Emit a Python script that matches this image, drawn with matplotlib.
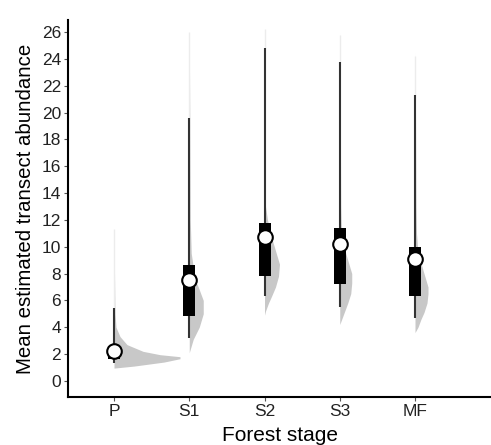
import numpy as np
import matplotlib.pyplot as plt

plt.rcParams['font.family'] = ['Liberation Sans', 'DejaVu Sans']

# forest stages
stages = ['P', 'S1', 'S2', 'S3', 'MF']

# posterior summaries
medians = [2.25, 7.5, 10.7, 10.2, 9.1]
box_lo = [1.6, 4.85, 7.8, 7.2, 6.3]      # 66% interval
box_hi = [2.6, 8.65, 11.8, 11.4, 10.0]
line_lo = [1.35, 3.2, 6.3, 5.5, 4.7]     # 95% interval
line_hi = [5.45, 19.6, 24.8, 23.8, 21.3]
tail_hi = [11.3, 26.0, 26.2, 25.8, 24.2]  # faint max tail

# half-violin outlines: (value, slab width in px at 75 px per category)
dens_vals = [
    [0.95, 1.1, 1.4, 1.65, 1.8, 1.95, 2.2, 2.7, 3.3, 4.0, 5.0, 11.0],
    [2.1, 2.6, 3.1, 4.0, 5.0, 6.0, 7.0, 7.5, 8.5, 9.5, 12.0, 20.0, 26.0],
    [4.9, 5.2, 5.8, 6.3, 7.0, 7.8, 8.7, 9.7, 10.7, 12.0, 13.0, 20.0, 26.0],
    [4.2, 4.6, 5.2, 5.8, 6.5, 7.3, 8.0, 9.0, 9.5, 10.5, 11.5, 13.0, 20.0, 26.0],
    [3.6, 4.0, 4.6, 5.1, 5.8, 6.5, 7.0, 7.5, 8.0, 9.0, 9.5, 11.0, 13.0, 20.0, 24.5],
]
dens_w = [
    [0, 20, 50, 66, 66, 46, 29, 13, 6, 2, 1, 0],
    [0, 2, 4, 10, 14, 14, 9, 6, 4, 2, 1, 0.5, 0],
    [0, 1, 4, 7, 11, 14, 15, 11, 7, 3, 1, 0.5, 0],
    [0, 2, 5, 8, 11, 12, 12, 8, 6, 3, 1.5, 1, 0.5, 0],
    [0, 3, 6, 9, 12, 13, 13, 11, 9, 5, 3, 1.5, 1, 0.5, 0],
]

fig = plt.figure(figsize=(4.91, 4.45), dpi=100)
ax = fig.add_axes([0.1385, 0.108, 0.8615, 0.847])

xs = np.arange(1, len(stages) + 1)
px = 75.25  # px per category

for i, x in enumerate(xs):
    v = np.array(dens_vals[i])
    w = np.array(dens_w[i]) / px
    ax.fill_betweenx(v, x, x + w, color='#c8c8c8', lw=0, zorder=1)
    ax.plot([x, x], [line_hi[i], tail_hi[i]], color='#ececec', lw=1.0, zorder=2,
            solid_capstyle='butt')
    ax.plot([x, x], [line_lo[i], line_hi[i]], color='#333333', lw=1.5, zorder=3,
            solid_capstyle='butt')
    ax.bar(x, box_hi[i] - box_lo[i], bottom=box_lo[i], width=12 / px,
           color='black', zorder=4)
    ax.plot(x, medians[i], 'o', ms=10.5, mfc='white', mec='black', mew=1.5, zorder=5)

ax.set_xlim(1 - 46 / px, 6.01)
ax.set_ylim(-1.2, 26.9)
ax.set_xticks(xs)
ax.set_xticklabels(stages)
ax.set_yticks(np.arange(0, 27, 2))

for s in ['top', 'right']:
    ax.spines[s].set_visible(False)
for s in ['left', 'bottom']:
    ax.spines[s].set_linewidth(1.5)
ax.tick_params(axis='both', length=3, width=0.8, color='#555555',
               labelsize=12.5, labelcolor='#222222', pad=2)

ax.set_xlabel('Forest stage', fontsize=15, labelpad=5)
ax.set_ylabel('Mean estimated transect abundance', fontsize=14.7, labelpad=5)

fig.savefig('out.png', dpi=100)
